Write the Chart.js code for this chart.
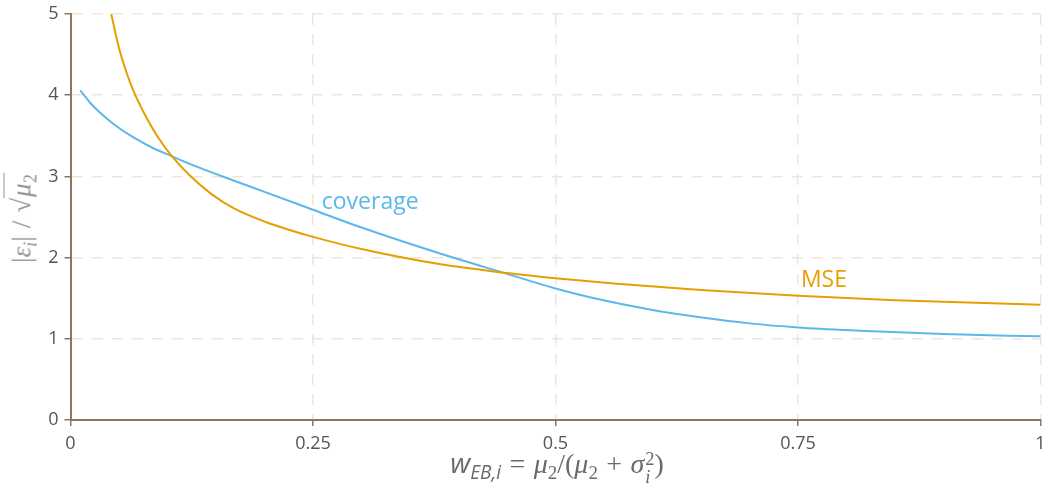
<!DOCTYPE html>
<html>
<head>
<meta charset="utf-8">
<script src="https://cdn.jsdelivr.net/npm/chart.js@4/dist/chart.umd.min.js"></script>
<style>
  html, body { margin: 0; padding: 0; background: #ffffff; }
  #wrap { position: relative; width: 1045px; height: 488px; overflow: hidden; }
  #c { position: absolute; left: 0; top: 0; }
  .mi { font-family: "Liberation Serif", "DejaVu Serif", serif; font-style: italic; }
  .mr { font-family: "Liberation Serif", "DejaVu Serif", serif; font-style: normal; }
  .si { font-family: "Open Sans", sans-serif; font-style: italic; }
  .op { margin: 0 0.3em; }
  #xtitle {
    position: absolute; left: 557px; top: 467px;
    transform: translate(-50%, -50%);
    font-size: 28px; color: #6a6a6a; white-space: nowrap; line-height: 1;
  }
  #ytitle {
    position: absolute; left: 22px; top: 218px;
    transform: translate(-50%, -50%) rotate(-90deg);
    font-size: 27px; color: #929292; white-space: nowrap; line-height: 1;
  }
  .sub { font-size: 68%; position: relative; top: 0.3em; }
  .ss {
    display: inline-flex; flex-direction: column;
    font-size: 66%; line-height: 0.95;
    vertical-align: 0.42em; margin-left: 0.05em;
  }
  .root { border-top: 1.5px solid currentColor; padding: 2px 1px 0 1px; }
</style>
</head>
<body>
<div id="wrap">
  <canvas id="c" width="1045" height="488"></canvas>
  <div id="xtitle"><span class="si">w</span><span class="sub si">EB,i</span><span class="mr op">=</span><span class="mi">μ</span><span class="sub mr">2</span><span class="mr">/(</span><span class="mi">μ</span><span class="sub mr">2</span><span class="mr op">+</span><span class="mi">σ</span><span class="ss"><span class="mr">2</span><span class="mi">i</span></span><span class="mr">)</span></div>
  <div id="ytitle"><span class="mr">|</span><span class="mi">ε</span><span class="sub mi">i</span><span class="mr">|</span><span class="mr op">/</span><span class="mr">√</span><span class="root"><span class="mi">μ</span><span class="sub mr">2</span></span></div>
</div>
<script>
// Shrinkage weight on the horizontal axis
const mseW = [0.042, 0.050, 0.058, 0.065, 0.075, 0.090, 0.104, 0.123, 0.145, 0.168,
              0.200, 0.226, 0.250, 0.300, 0.380, 0.450, 0.500, 0.560, 0.650, 0.750,
              0.850, 1.000];
// Half-length of the MSE-optimal interval
const mseHalf = [5.00, 4.58, 4.27, 4.05, 3.80, 3.485, 3.255, 3.01, 2.785, 2.61,
                 2.445, 2.34, 2.255, 2.105, 1.92, 1.81, 1.745, 1.68, 1.60, 1.53,
                 1.475, 1.42];

const covW = [0.010, 0.020, 0.030, 0.045, 0.065, 0.085, 0.104, 0.130, 0.168, 0.200,
              0.250, 0.300, 0.381, 0.450, 0.500, 0.540, 0.600, 0.649, 0.700, 0.750,
              0.814, 0.900, 1.000];
// Half-length needed for robust coverage
const covHalf = [4.06, 3.91, 3.79, 3.64, 3.48, 3.35, 3.25, 3.12, 2.95, 2.81,
                 2.59, 2.37, 2.05, 1.80, 1.62, 1.50, 1.355, 1.265, 1.19, 1.14,
                 1.10, 1.058, 1.03];

const xTickValues = [0, 0.25, 0.5, 0.75, 1];
const xTickLabels = ['0', '0.25', '0.5', '0.75', '1'];
const yTickValues = [0, 1, 2, 3, 4, 5];
const yTickLabels = ['0', '1', '2', '3', '4', '5'];

const seriesNames = ['MSE', 'coverage'];
const seriesColors = ['#E69F00', '#5DB8EA'];
// Where each curve's name sits, in data units (left edge, baseline)
const labelAnchors = [[0.753, 1.634], [0.259, 2.60]];

const pairs = (xs, ys) => xs.map((x, i) => ({ x: x, y: ys[i] }));

const axisBrown = '#8b7763';
const gridPeach = '#f1e4d9';

const curveLabels = {
  id: 'curveLabels',
  afterDatasetsDraw(chart) {
    const { ctx, scales } = chart;
    ctx.save();
    ctx.font = '23px "Open Sans"';
    ctx.textAlign = 'left';
    ctx.textBaseline = 'alphabetic';
    seriesNames.forEach((name, i) => {
      ctx.fillStyle = seriesColors[i];
      ctx.fillText(name,
        scales.x.getPixelForValue(labelAnchors[i][0]),
        scales.y.getPixelForValue(labelAnchors[i][1]));
    });
    ctx.restore();
  }
};

const tickFont = { family: 'Open Sans', size: 18 };

const lineSet = (i, xs, ys) => ({
  label: seriesNames[i],
  data: pairs(xs, ys),
  showLine: true,
  borderColor: seriesColors[i],
  borderWidth: 2,
  pointRadius: 0,
  cubicInterpolationMode: 'monotone',
  fill: false
});

new Chart(document.getElementById('c'), {
  type: 'scatter',
  data: {
    datasets: [
      lineSet(0, mseW, mseHalf),
      lineSet(1, covW, covHalf)
    ]
  },
  options: {
    responsive: false,
    animation: false,
    devicePixelRatio: 1,
    layout: { padding: { top: 14, right: 4.5, left: 0, bottom: 0 } },
    plugins: {
      legend: { display: false },
      tooltip: { enabled: false }
    },
    scales: {
      x: {
        type: 'linear',
        min: 0,
        max: 1,
        afterBuildTicks: (s) => { s.ticks = xTickValues.map(v => ({ value: v })); },
        afterFit: (s) => { s.height = 68; s.paddingRight = 0; s.paddingLeft = 0; },
        ticks: {
          callback: (v) => xTickLabels[xTickValues.indexOf(v)],
          font: tickFont,
          color: '#555555',
          padding: 7,
          maxRotation: 0,
          autoSkip: false
        },
        grid: {
          color: gridPeach,
          lineWidth: 1.5,
          tickColor: axisBrown,
          tickLength: 6,
          tickWidth: 1.5
        },
        border: { color: axisBrown, width: 2, dash: [11, 9] }
      },
      y: {
        type: 'linear',
        min: 0,
        max: 5,
        afterBuildTicks: (s) => { s.ticks = yTickValues.map(v => ({ value: v })); },
        afterFit: (s) => { s.width = 70.5; s.paddingTop = 0; s.paddingBottom = 0; },
        ticks: {
          callback: (v) => yTickLabels[yTickValues.indexOf(v)],
          font: tickFont,
          color: '#555555',
          padding: 6,
          autoSkip: false
        },
        grid: {
          color: gridPeach,
          lineWidth: 1.5,
          tickColor: axisBrown,
          tickLength: 6,
          tickWidth: 1.5
        },
        border: { color: axisBrown, width: 2, dash: [11, 9] }
      }
    }
  },
  plugins: [curveLabels]
});
</script>
</body>
</html>
